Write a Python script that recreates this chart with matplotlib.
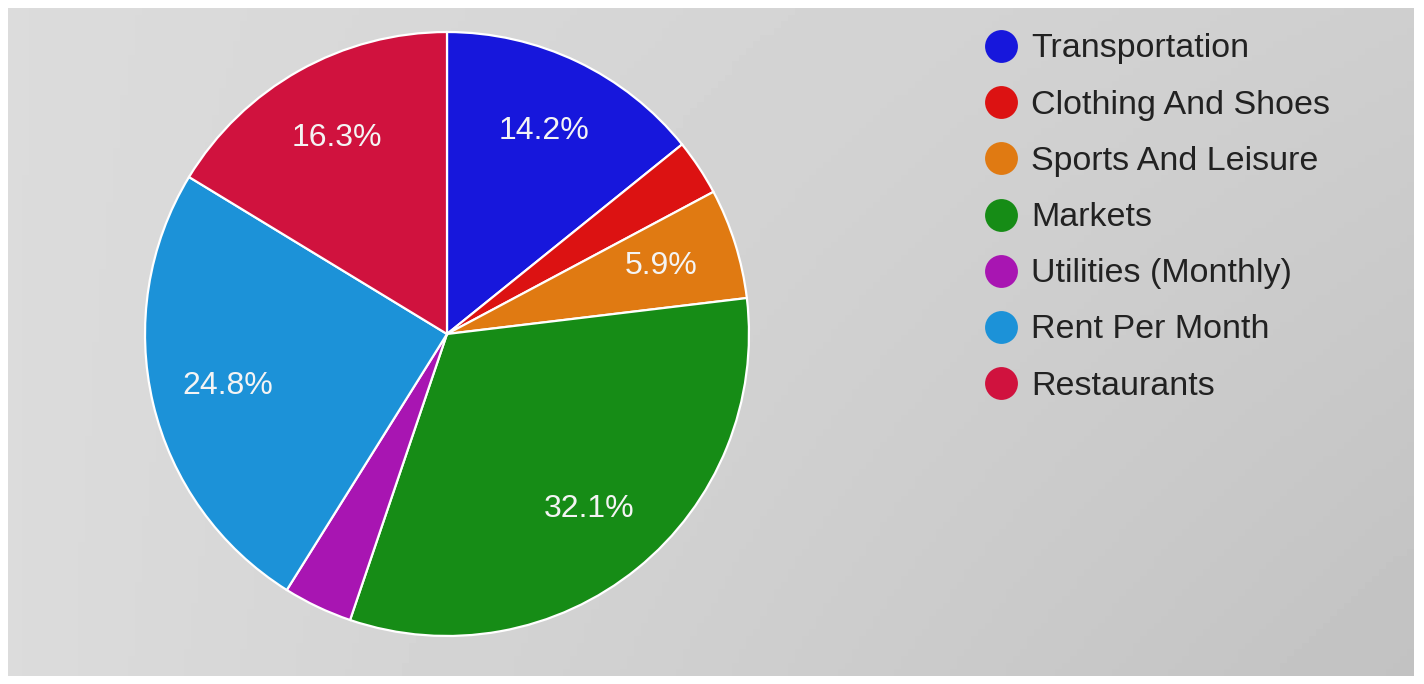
import numpy as np
import matplotlib as mpl
import matplotlib.pyplot as plt

mpl.rc('font', family=['Liberation Sans', 'DejaVu Sans'])

categories = ['Transportation', 'Clothing And Shoes', 'Sports And Leisure', 'Markets',
              'Utilities (Monthly)', 'Rent Per Month', 'Restaurants']
shares = [14.2, 3.0, 5.9, 32.1, 3.7, 24.8, 16.3]
colors = ['#1717dc', '#dc1212', '#e07a12', '#168c16', '#a815b2', '#1c92d8', '#d0123e']

fig = plt.figure(figsize=(14.24, 6.84), dpi=100)
fig.patch.set_facecolor('white')

# photo background (gray screen with a soft gradient) in pixel coords
bg = fig.add_axes([0, 0, 1, 1])
bg.set_xlim(0, 1424)
bg.set_ylim(684, 0)
bg.axis('off')
gx, gy = np.meshgrid(np.linspace(0, 1, 200), np.linspace(0, 1, 100))
shade = 0.86 - 0.05 * gx - 0.05 * gy * gx
bg.imshow(shade, cmap='gray', vmin=0, vmax=1, extent=[8, 1414, 676, 8], aspect='auto', zorder=0)

# legend drawn by hand
for i, (name, c) in enumerate(zip(categories, colors)):
    y = 46 + 56.2 * i
    bg.scatter(1001, y, s=560, color=c, zorder=2, linewidths=0)
    bg.text(1031, y + 3, name, fontsize=24.5, color='#222222', va='center', ha='left', zorder=3)

# pie
ax = fig.add_axes([0.1018, 0.0702, 0.4242, 0.8830])
wedges, texts, autotexts = ax.pie(shares, colors=colors, startangle=90, counterclock=False,
                                  autopct=lambda p: f'{p:.1f}%' if p > 5 else '', pctdistance=0.745,
                                  wedgeprops=dict(edgecolor='white', linewidth=1.6),
                                  textprops=dict(color='#f4f4f4', fontsize=23))
ax.set_xlim(-1.0, 1.0)
ax.set_ylim(-1.0, 1.0)
ax.set_aspect('equal')
ax.axis('off')

fig.savefig('out.png', dpi=100)
